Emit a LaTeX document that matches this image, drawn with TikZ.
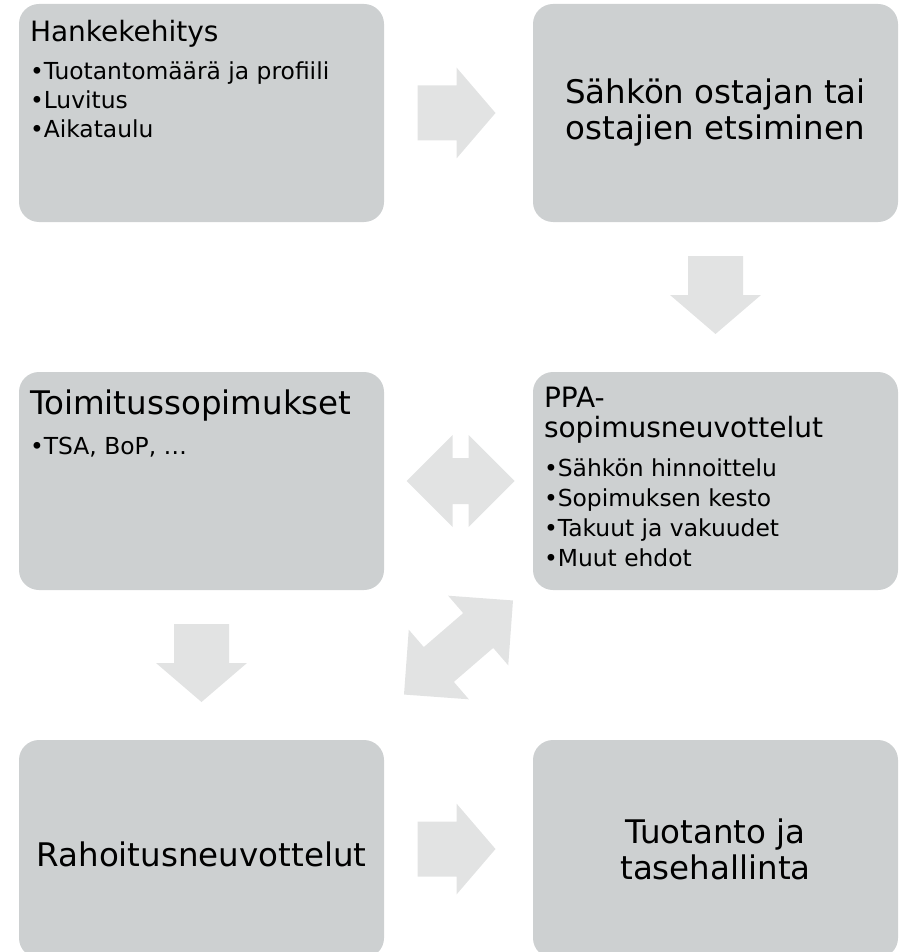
\documentclass[tikz,border=0pt]{standalone}
\usepackage{fontspec}
\setmainfont{DejaVu Sans}
\usetikzlibrary{positioning,calc}
\definecolor{boxgray}{RGB}{205,208,209}
\definecolor{arrowgray}{RGB}{226,227,227}
\tikzset{
  blockbox/.style={fill=boxgray, rounded corners=20pt, minimum width=365pt, minimum height=218pt,
    inner sep=0pt, align=center, font=\fontsize{32.5}{36}\selectfont},
  headtext/.style={font=\fontsize{28}{30}\selectfont, inner sep=0pt, anchor=base west},
  bigheadtext/.style={font=\fontsize{32.5}{36}\selectfont, inner sep=0pt, anchor=base west},
  itemtext/.style={font=\fontsize{23.4}{29}\selectfont, inner sep=0pt, anchor=base west},
  pics/fwdarrow/.style={code={
    \fill[arrowgray] (-41,-27.5) -- (-2,-27.5) -- (-2,-45.5) -- (37,0) -- (-2,45.5) -- (-2,27.5) -- (-41,27.5) -- cycle;}},
  pics/dblarrow/.style={code={
    \fill[arrowgray] (-#1,0) -- (-#1+46,46) -- (-#1+46,23) -- (#1-46,23) -- (#1-46,46) -- (#1,0)
      -- (#1-46,-46) -- (#1-46,-23) -- (-#1+46,-23) -- (-#1+46,-46) -- cycle;}}
}

\begin{document}
\begin{tikzpicture}[
  x=1pt, y=1pt,
  node distance=368pt and 514pt, % rivit ja sarakkeet
  on grid
]
\useasboundingbox (0,0) rectangle (899,-952);

% laatikot
\node (hanke) [blockbox] at (201.5,-113) {};
\node (sahko) [blockbox, right=of hanke] {Sähkön ostajan tai\\ostajien etsiminen};
\node (toimi) [blockbox, below=of hanke] {};
\node (ppa) [blockbox, below=of sahko] {};
\node (rahoitus) [blockbox, text height=36pt, below=of toimi] {Rahoitusneuvottelut};
\node (tuotanto) [blockbox, below=of ppa] {Tuotanto ja\\tasehallinta};

% tekstit vasemmalle ylös
\node (hankeTitle) [headtext] at ($(hanke.north west)+(11,-38)$) {Hankekehitys};
\node (hanke1) [below=38pt of hankeTitle.base west, itemtext] {•Tuotantomäärä ja profiili};
\node (hanke2) [below=29pt of hanke1.base west, itemtext] {•Luvitus};
\node (hanke3) [below=29pt of hanke2.base west, itemtext] {•Aikataulu};

\node (toimiTitle) [bigheadtext] at ($(toimi.north west)+(11,-43)$) {Toimitussopimukset};
\node (toimi1) [below=40pt of toimiTitle.base west, itemtext] {•TSA, BoP, …};

\node (ppaTitle) [headtext] at ($(ppa.north west)+(11,-36)$) {PPA-};
\node (ppaTitle2) [below=30pt of ppaTitle.base west, headtext] {sopimusneuvottelut};
\node (ppa1) [below=39pt of ppaTitle2.base west, itemtext] {•Sähkön hinnoittelu};
\node (ppa2) [below=30pt of ppa1.base west, itemtext] {•Sopimuksen kesto};
\node (ppa3) [below=30pt of ppa2.base west, itemtext] {•Takuut ja vakuudet};
\node (ppa4) [below=30pt of ppa3.base west, itemtext] {•Muut ehdot};

% nuolet
\pic at ($(hanke.east)!0.5!(sahko.west)$) {fwdarrow};
\pic[rotate=-90] at ($(sahko.south)!0.5!(ppa.north)$) {fwdarrow};
\pic at ($(toimi.east)!0.515!(ppa.west)$) {dblarrow=54};
\pic[rotate=40.8] at ($(rahoitus.north east)!0.5!(ppa.south west)+(0,17.5)$) {dblarrow=72};
\pic[rotate=-90] at ($(toimi.south)!0.5!(rahoitus.north)$) {fwdarrow};
\pic at ($(rahoitus.east)!0.5!(tuotanto.west)$) {fwdarrow};
\end{tikzpicture}
\end{document}
